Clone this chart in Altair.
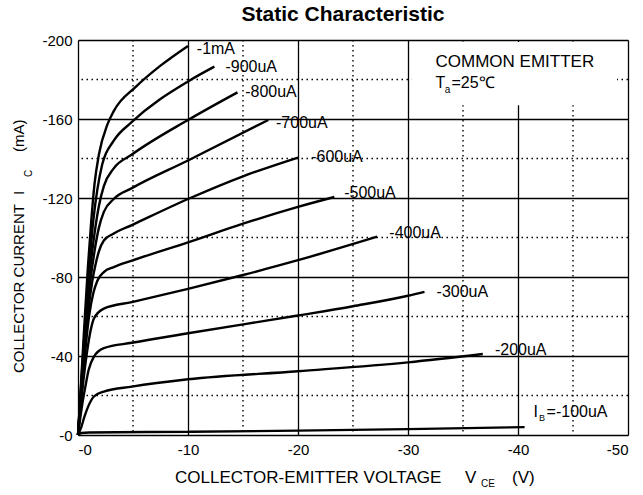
import altair as alt
import pandas as pd

# ---------------- data ----------------
chart_title = "Static Characteristic"
x_ticks = [0, -10, -20, -30, -40, -50]
y_ticks = [0, -40, -80, -120, -160, -200]
x_minor = [-5, -15, -25, -35, -45]
y_minor = [-20, -60, -100, -140, -180]

curve_names = ["-1mA", "-900uA", "-800uA", "-700uA", "-600uA",
               "-500uA", "-400uA", "-300uA", "-200uA", "-100uA"]

v_1000 = [0, -0.5, -0.9, -1.2, -1.5, -1.9, -2.66, -3.25, -5.3, -7.5, -10]
i_1000 = [0, -48, -85, -108, -127, -142, -157, -164, -176.5, -187, -197]

v_900 = [0, -0.5, -1.0, -1.4, -1.75, -2.2, -3.25, -4.9, -10, -12.4]
i_900 = [0, -44, -84, -109, -124, -137, -149, -158.5, -179, -186.5]

v_800 = [0, -0.5, -1.0, -1.5, -1.9, -2.35, -3.25, -4.9, -10, -14.5]
i_800 = [0, -41, -78, -102, -116, -126, -135, -142, -159.5, -173.5]

v_700 = [0, -0.5, -1.0, -1.5, -1.9, -2.35, -3.25, -4.9, -10, -17.3]
i_700 = [0, -38, -72, -93, -105, -113, -119.5, -125, -139, -159.5]

v_600 = [0, -0.5, -1.0, -1.3, -1.58, -1.9, -2.35, -3.25, -4.9, -10, -15, -20]
i_600 = [0, -36, -66, -78, -86, -93, -98.5, -102, -106.3, -119.5, -131, -140.5]

v_500 = [0, -0.5, -1.0, -1.4, -1.75, -2.35, -3.25, -4.9, -10, -15, -20, -23.3]
i_500 = [0, -33, -60, -72, -78, -82.5, -85, -88.3, -97.5, -107, -115.5, -120.5]

v_400 = [0, -0.5, -0.9, -1.15, -1.45, -2.35, -4.9, -10, -15, -20, -27.2]
i_400 = [0, -28, -45, -53, -59, -64, -67.3, -74, -81, -88.5, -100.4]

v_300 = [0, -0.4, -0.67, -0.97, -1.45, -2.35, -4.9, -10, -20, -25, -30, -31.5]
i_300 = [0, -16, -24.5, -33, -39.7, -44, -46.7, -51.5, -60.5, -65.2, -70.5, -72.5]

v_200 = [0, -0.3, -0.6, -0.97, -1.45, -2.35, -4.9, -10, -20, -30, -36.8]
i_200 = [0, -4, -9.5, -15, -19.5, -22, -24.5, -28.2, -32.3, -36.8, -41]

v_100 = [0, -0.3, -1, -10, -20, -30, -40.6]
i_100 = [0, -1, -1.3, -1.6, -2.2, -3, -4]

label_text = ["-1mA", "-900uA", "-800uA", "-700uA", "-600uA",
              "-500uA", "-400uA", "-300uA", "-200uA"]
label_v = [-10.8, -13.4, -15.2, -18.0, -21.2, -24.2, -28.3, -32.6, -37.9]
label_i = [-195.4, -186.3, -173.7, -158.0, -140.8, -122.5, -102.3, -72.4, -43.0]

# ---------------- tables ----------------
curves_v = [v_1000, v_900, v_800, v_700, v_600, v_500, v_400, v_300, v_200, v_100]
curves_i = [i_1000, i_900, i_800, i_700, i_600, i_500, i_400, i_300, i_200, i_100]
rows = []
for name, vs, cs in zip(curve_names, curves_v, curves_i):
    for k, (v, c) in enumerate(zip(vs, cs)):
        rows.append({"curve": name, "k": k, "V": v, "I": c})
df = pd.DataFrame(rows)

FONT = "Liberation Sans"
xscale = alt.Scale(domain=[0, -50], nice=False, zero=False)
yscale = alt.Scale(domain=[0, -200], nice=False, zero=False)
xaxis = alt.Axis(values=x_ticks, labelExpr="'-' + abs(datum.value)", grid=True,
                 gridColor="black", gridWidth=1.3, ticks=False, domain=False,
                 title="", labelFont=FONT, labelFontSize=15, labelColor="black",
                 labelPadding=7)
yaxis = alt.Axis(values=y_ticks, labelExpr="'-' + abs(datum.value)", grid=True,
                 gridColor="black", gridWidth=1.3, ticks=False, domain=False,
                 title="", labelFont=FONT, labelFontSize=15, labelColor="black",
                 labelPadding=6)


def X(field):
    return alt.X(field, type="quantitative", scale=xscale, axis=xaxis)


def Y(field):
    return alt.Y(field, type="quantitative", scale=yscale, axis=yaxis)


dot = [1.5, 3.5]
minor_v = alt.Chart(pd.DataFrame({"V": x_minor})).mark_rule(
    color="black", strokeWidth=1.4, strokeDash=dot).encode(x=X("V"))
minor_h = alt.Chart(pd.DataFrame({"I": y_minor})).mark_rule(
    color="black", strokeWidth=1.4, strokeDash=dot).encode(y=Y("I"))

mask = alt.Chart(pd.DataFrame({"V": [-30.3], "V2": [-49.0],
                               "I": [-199.0], "I2": [-167.0]})).mark_rect(
    color="white", opacity=1).encode(x=X("V"), x2="V2", y=Y("I"), y2="I2")

lines = alt.Chart(df).mark_line(color="black", strokeWidth=2.4,
                                interpolate="monotone").encode(
    x=X("V"), y=Y("I"), detail="curve:N", order="k:Q")

labels = alt.Chart(pd.DataFrame({"t": label_text, "V": label_v, "I": label_i})).mark_text(
    align="left", baseline="middle", font=FONT, fontSize=16, color="black").encode(
    x=X("V"), y=Y("I"), text="t:N")

ib_i = alt.Chart(pd.DataFrame({"t": ["I"], "V": [-41.4], "I": [-11.6]})).mark_text(
    align="left", baseline="middle", font=FONT, fontSize=16, color="black").encode(
    x=X("V"), y=Y("I"), text="t:N")
ib_b = alt.Chart(pd.DataFrame({"t": ["B"], "V": [-41.9], "I": [-8.6]})).mark_text(
    align="left", baseline="middle", font=FONT, fontSize=9, color="black").encode(
    x=X("V"), y=Y("I"), text="t:N")
ib_rest = alt.Chart(pd.DataFrame({"t": ["=-100uA"], "V": [-42.6], "I": [-11.6]})).mark_text(
    align="left", baseline="middle", font=FONT, fontSize=16, color="black").encode(
    x=X("V"), y=Y("I"), text="t:N")

ce = alt.Chart(pd.DataFrame({"t": ["COMMON EMITTER"], "V": [-32.5], "I": [-186.3]})).mark_text(
    align="left", baseline="alphabetic", font=FONT, fontSize=17, color="black").encode(
    x=X("V"), y=Y("I"), text="t:N")
ta_t = alt.Chart(pd.DataFrame({"t": ["T"], "V": [-32.5], "I": [-175.7]})).mark_text(
    align="left", baseline="alphabetic", font=FONT, fontSize=16, color="black").encode(
    x=X("V"), y=Y("I"), text="t:N")
ta_a = alt.Chart(pd.DataFrame({"t": ["a"], "V": [-33.35], "I": [-173.2]})).mark_text(
    align="left", baseline="alphabetic", font=FONT, fontSize=10, color="black").encode(
    x=X("V"), y=Y("I"), text="t:N")
ta_rest = alt.Chart(pd.DataFrame({"t": ["=25℃"], "V": [-33.95], "I": [-175.7]})).mark_text(
    align="left", baseline="alphabetic", font=FONT, fontSize=16, color="black").encode(
    x=X("V"), y=Y("I"), text="t:N")


def ptext(t, x, y, size, angle=0, baseline="alphabetic"):
    kw = dict(align="left", baseline=baseline, font=FONT, fontSize=size, color="black")
    if angle:
        kw["angle"] = angle
    return alt.Chart(pd.DataFrame({"t": [t]})).mark_text(**kw).encode(
        text="t:N", x=alt.value(x), y=alt.value(y))


xt1 = ptext("COLLECTOR-EMITTER VOLTAGE", 97, 443, 17)
xt2 = ptext("V", 387, 443, 17)
xt3 = ptext("CE", 403, 447, 10)
xt4 = ptext("(V)", 434, 443, 17)

yt1 = ptext("COLLECTOR CURRENT", -59.5, 333, 15, angle=270, baseline="middle")
yt2 = ptext("I", -59.5, 155, 15, angle=270, baseline="middle")
yt3 = ptext("C", -49, 137, 10, angle=270, baseline="middle")
yt4 = ptext("(mA)", -59.5, 112, 15, angle=270, baseline="middle")

chart = alt.layer(
    minor_v, minor_h, mask, lines, labels, ib_i, ib_b, ib_rest,
    ce, ta_t, ta_a, ta_rest, xt1, xt2, xt3, xt4, yt1, yt2, yt3, yt4
).properties(
    width=550, height=395,
    padding={"left": 78, "top": 40, "right": 15, "bottom": 60},
    autosize=alt.AutoSizeParams(type="none"),
    title=alt.TitleParams(chart_title, font=FONT, fontSize=21, fontWeight="bold",
                          color="black", anchor="middle", offset=8, dx=-10),
).configure_view(stroke="black", strokeWidth=2).configure(background="white")

chart.save("out.html", embed_options={"renderer": "svg", "actions": False})
